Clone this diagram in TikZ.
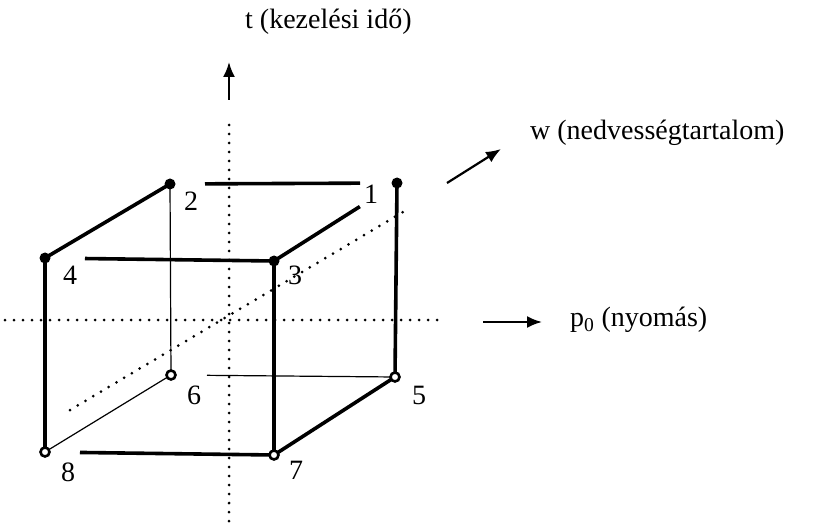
\documentclass[tikz,border=0pt]{standalone}
\usepackage{fontspec}
\setmainfont{Liberation Serif}
\usetikzlibrary{arrows.meta}
\begin{document}
\begin{tikzpicture}[x=1pt,y=-1pt,
  thickedge/.style={line width=3.6pt},
  thinedge/.style={line width=1.2pt},
  axisdots/.style={line width=3pt, line cap=round, dash pattern=on 0pt off 9pt},
  fdot/.style={circle, fill=black, inner sep=0pt, minimum size=11pt},
  odot/.style={circle, draw=black, fill=white, line width=2.6pt, inner sep=0pt, minimum size=9pt},
  numlbl/.style={font=\fontsize{28}{28}\selectfont, inner sep=0pt},
  axlbl/.style={font=\fontsize{28}{28}\selectfont, inner sep=0pt, anchor=west},
  dirarrow/.style={line width=2.2pt, -{Latex[length=15pt,width=12pt]}}]
\useasboundingbox (0,0) rectangle (840,529);

% dotted axes through the box
\coordinate (vt) at (229,125);
\coordinate (vb) at (229,527);
\coordinate (hl) at (5,320);
\coordinate (hr) at (440,320);
\coordinate (dl) at (70,410);
\coordinate (dr) at (403,212);
\draw[axisdots] (vt) -- (vb);
\draw[axisdots] (hl) -- (hr);
\draw[axisdots] (dl) -- (dr);

% corners of the box
\coordinate (c1) at (397,183);
\coordinate (c2) at (170,184);
\coordinate (c3) at (274,261);
\coordinate (c4) at (45,258);
\coordinate (c5) at (395,377);
\coordinate (c6) at (171,375);
\coordinate (c7) at (274,455);
\coordinate (c8) at (45,452);

% hidden (thin) edges
\draw[thinedge] (c2) -- (c6);
\draw[thinedge, shorten <=36pt] (c6) -- (c5);
\draw[thinedge] (c8) -- (c6);

% visible (thick) edges
\draw[thickedge, shorten <=35pt, shorten >=37pt] (c2) -- (c1);
\draw[thickedge, shorten <=44pt] (c1) -- (c3);
\draw[thickedge] (c4) -- (c2);
\draw[thickedge, shorten <=40pt] (c4) -- (c3);
\draw[thickedge] (c1) -- (c5);
\draw[thickedge] (c3) -- (c7);
\draw[thickedge] (c4) -- (c8);
\draw[thickedge, shorten <=35pt] (c8) -- (c7);
\draw[thickedge] (c7) -- (c5);

% corner markers
\node[fdot] (n1) at (c1) {};
\node[fdot] (n2) at (c2) {};
\node[fdot] (n3) at (c3) {};
\node[fdot] (n4) at (c4) {};
\node[odot] (n5) at (c5) {};
\node[odot] (n6) at (c6) {};
\node[odot] (n7) at (c7) {};
\node[odot] (n8) at (c8) {};

% corner numbers
\node[numlbl] (l1) at (371,194) {1};
\node[numlbl] (l2) at (191,201) {2};
\node[numlbl] (l3) at (295,275) {3};
\node[numlbl] (l4) at (70,275) {4};
\node[numlbl] (l5) at (419,395) {5};
\node[numlbl] (l6) at (194,395) {6};
\node[numlbl] (l7) at (296,470) {7};
\node[numlbl] (l8) at (68,472) {8};

% direction arrows and their labels
\coordinate (ta) at (229,100);
\coordinate (tb) at (229,62);
\draw[dirarrow] (ta) -- (tb);
\node[axlbl] (tl) at (245,22) {t (kezelési idő)};

\coordinate (wa) at (447,183);
\coordinate (wb) at (501,149);
\draw[dirarrow] (wa) -- (wb);
\node[axlbl] (wl) at (530,133) {w (nedvességtartalom)};

\coordinate (pa) at (483,322);
\coordinate (pb) at (542,322);
\draw[dirarrow] (pa) -- (pb);
\node[axlbl] (pl) at (570,320) {p\textsubscript{0} (nyomás)};
\end{tikzpicture}
\end{document}
